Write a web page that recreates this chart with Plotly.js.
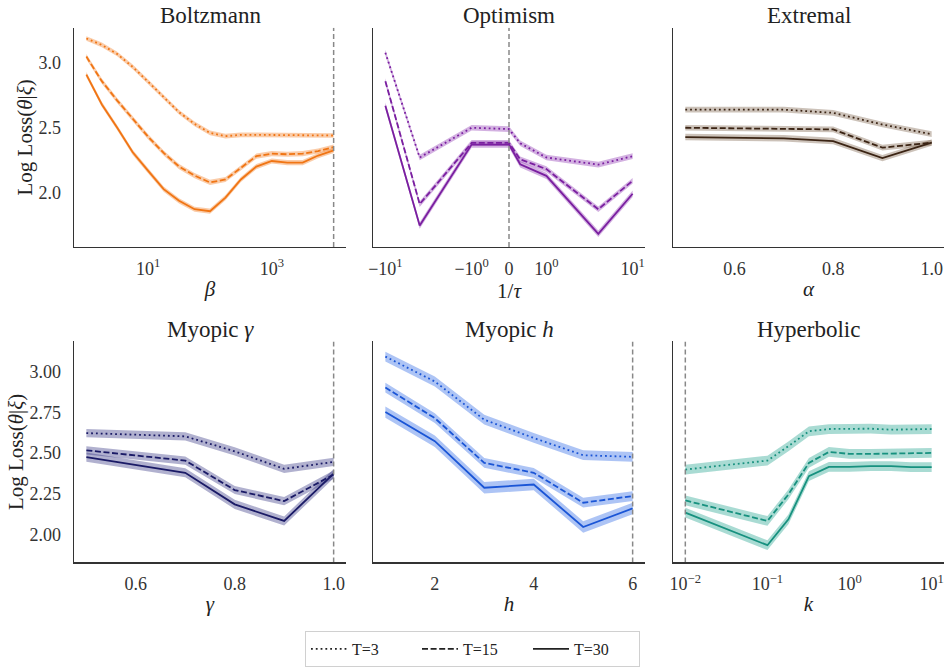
<!DOCTYPE html>
<html>
<head>
<meta charset="utf-8">
<script src="https://cdn.plot.ly/plotly-3.0.1.min.js"></script>
<style>html,body{margin:0;padding:0;background:#fff;}#chart{width:945px;height:667px;}</style>
</head>
<body>
<div id="chart"></div>
<script>
// ---------------- data ----------------
const seriesLabels = ['T=3', 'T=15', 'T=30'];

// Boltzmann (x: beta, log axis)
const boltzBeta = [1, 1.78, 3.16, 5.62, 10, 17.8, 31.6, 56.2, 100, 178, 316, 562, 1000, 1780, 3160, 5620, 10000];
const boltzT3  = [3.19, 3.14, 3.07, 2.97, 2.855, 2.74, 2.62, 2.53, 2.46, 2.435, 2.445, 2.445, 2.445, 2.445, 2.44, 2.44, 2.44];
const boltzT15 = [3.05, 2.86, 2.71, 2.57, 2.43, 2.305, 2.20, 2.13, 2.077, 2.10, 2.19, 2.28, 2.30, 2.295, 2.30, 2.32, 2.35];
const boltzT30 = [2.91, 2.68, 2.50, 2.31, 2.167, 2.025, 1.935, 1.87, 1.855, 1.96, 2.10, 2.20, 2.243, 2.23, 2.23, 2.285, 2.325];
const boltzErr = [0.018, 0.02, 0.02];
const boltzRef = 10000;

// Optimism (x: 1/tau, symlog axis)
const optTau = [-10, -4, -1, 0, 0.3, 1, 4, 10];
const optT3  = [3.08, 2.27, 2.50, 2.49, 2.38, 2.27, 2.215, 2.28];
const optT15 = [2.86, 1.91, 2.383, 2.383, 2.256, 2.18, 1.87, 2.09];
const optT30 = [2.67, 1.745, 2.37, 2.37, 2.218, 2.128, 1.68, 1.99];
const optErr = [0.022, 0.022, 0.025];
const optRef = 0;

// Extremal (x: alpha)
const extAlpha = [0.5, 0.6, 0.7, 0.8, 0.9, 1.0];
const extT3  = [2.64, 2.64, 2.64, 2.615, 2.525, 2.45];
const extT15 = [2.50, 2.495, 2.49, 2.487, 2.346, 2.385];
const extT30 = [2.428, 2.423, 2.418, 2.397, 2.265, 2.385];
const extErr = [0.022, 0.022, 0.025];

// Myopic gamma
const myGamma = [0.5, 0.6, 0.7, 0.8, 0.9, 1.0];
const myGT3  = [2.622, 2.612, 2.602, 2.51, 2.402, 2.445];
const myGT15 = [2.516, 2.485, 2.453, 2.272, 2.204, 2.367];
const myGT30 = [2.474, 2.426, 2.378, 2.184, 2.082, 2.373];
const myGErr = [0.025, 0.025, 0.028];
const myGRef = 1.0;

// Myopic h
const myH = [1, 2, 3, 4, 5, 6];
const myHT3  = [3.092, 2.939, 2.704, 2.592, 2.486, 2.476];
const myHT15 = [2.902, 2.714, 2.439, 2.378, 2.194, 2.235];
const myHT30 = [2.751, 2.572, 2.286, 2.306, 2.045, 2.159];
const myHErr = [0.03, 0.03, 0.035];
const myHRef = 6;

// Hyperbolic (x: k, log axis)
const hypK = [0.01, 0.1, 0.18, 0.32, 0.56, 1, 1.8, 3.2, 5.6, 10];
const hypT3  = [2.398, 2.453, 2.541, 2.633, 2.647, 2.647, 2.649, 2.643, 2.647, 2.647];
const hypT15 = [2.208, 2.082, 2.245, 2.439, 2.506, 2.494, 2.494, 2.496, 2.50, 2.50];
const hypT30 = [2.133, 1.933, 2.092, 2.357, 2.414, 2.414, 2.419, 2.419, 2.413, 2.413];
const hypErr = [0.03, 0.03, 0.03];
const hypRef = 0.01;

// ---------------- styles ----------------
const FONT = "'Liberation Serif', 'DejaVu Serif', serif";
const DASHES = ['1.8px,3px', '6px,2.6px', 'solid'];
const LW = 1.8;
const TOP_RANGE = [1.579, 3.272];
const BOT_RANGE = [1.827, 3.185];

// symlog-like transform for the optimism axis (linear within |v|<=1)
const LIN = 0.433;
function symlog(v) {
  const a = Math.abs(v);
  const t = a <= 1 ? a * LIN : LIN + Math.log10(a);
  return Math.sign(v) * t;
}

const panels = [
  {key: '', x: boltzBeta, ys: [boltzT3, boltzT15, boltzT30], err: boltzErr, color: [243,121,30], line: '#f07514', ref: boltzRef, yr: TOP_RANGE},
  {key: '2', x: optTau.map(symlog), ys: [optT3, optT15, optT30], err: optErr, color: [140,50,175], line: '#7a1fa0', ref: symlog(optRef), yr: TOP_RANGE},
  {key: '3', x: extAlpha, ys: [extT3, extT15, extT30], err: extErr, color: [120,95,70], line: '#3b2414', ref: null, yr: TOP_RANGE},
  {key: '4', x: myGamma, ys: [myGT3, myGT15, myGT30], err: myGErr, color: [50,50,130], line: '#1a1a66', ref: myGRef, yr: BOT_RANGE},
  {key: '5', x: myH, ys: [myHT3, myHT15, myHT30], err: myHErr, color: [40,100,230], line: '#1a55d6', ref: myHRef, yr: BOT_RANGE},
  {key: '6', x: hypK, ys: [hypT3, hypT15, hypT30], err: hypErr, color: [30,160,140], line: '#17917f', ref: hypRef, yr: BOT_RANGE}
];

const traces = [];
panels.forEach(p => {
  const xa = 'x' + p.key, ya = 'y' + p.key;
  const fill = `rgba(${p.color[0]},${p.color[1]},${p.color[2]},0.38)`;
  p.ys.forEach((ys, i) => {
    const e = p.err[i];
    traces.push({x: p.x, y: ys.map(v => v - e), xaxis: xa, yaxis: ya, mode: 'lines',
      line: {width: 0, color: 'rgba(0,0,0,0)'}, showlegend: false, hoverinfo: 'skip'});
    traces.push({x: p.x, y: ys.map(v => v + e), xaxis: xa, yaxis: ya, mode: 'lines', fill: 'tonexty',
      fillcolor: fill, line: {width: 0, color: 'rgba(0,0,0,0)'}, showlegend: false, hoverinfo: 'skip'});
  });
  p.ys.forEach((ys, i) => {
    traces.push({x: p.x, y: ys, xaxis: xa, yaxis: ya, mode: 'lines',
      line: {width: LW, color: p.line, dash: DASHES[i]}, showlegend: false, hoverinfo: 'skip'});
  });
  if (p.ref !== null) {
    traces.push({x: [p.ref, p.ref], y: p.yr, xaxis: xa, yaxis: ya, mode: 'lines',
      line: {width: 1.5, color: '#888', dash: '5px,3px'}, showlegend: false, hoverinfo: 'skip'});
  }
});

// legend entries
seriesLabels.forEach((lab, i) => {
  traces.push({x: [null], y: [null], xaxis: 'x', yaxis: 'y', mode: 'lines', name: lab,
    line: {width: LW, color: '#222', dash: DASHES[i]}, showlegend: true});
});

// ---------------- layout ----------------
const W = 945, H = 667;
const COLS = [[74, 346], [373, 645], [673, 944]];
const ROWS = [[28, 248], [343, 565]];
const xd = c => [COLS[c][0] / W, COLS[c][1] / W];
const yd = r => [1 - ROWS[r][1] / H, 1 - ROWS[r][0] / H];

const tickfont = {family: FONT, size: 18, color: '#333'};
const titlefont = {family: FONT, size: 21, color: '#222'};

function xaxis(c, r, yk, extra) {
  return Object.assign({
    domain: xd(c), anchor: 'y' + yk, showline: true, linecolor: '#333', linewidth: 1.3,
    showgrid: false, zeroline: false, ticks: '', tickfont: tickfont, ticklabelstandoff: 5,
    fixedrange: true
  }, extra);
}
function yaxis(c, r, xk, extra) {
  return Object.assign({
    domain: yd(r), anchor: 'x' + xk, showline: true, linecolor: '#333', linewidth: 1.3,
    showgrid: false, zeroline: false, ticks: '', tickfont: tickfont, ticklabelstandoff: 8,
    range: r === 0 ? TOP_RANGE : BOT_RANGE, fixedrange: true
  }, extra);
}

const ytitle = {text: 'Log Loss(<i>θ</i>|<i>ξ</i>)', font: titlefont, standoff: 0};

const layout = {
  width: W, height: H,
  margin: {l: 0, r: 0, t: 0, b: 0},
  paper_bgcolor: '#fff', plot_bgcolor: '#fff',
  font: {family: FONT, color: '#222'},
  xaxis: xaxis(0, 0, '', {type: 'log', range: [-0.2, 4.2], tickvals: [10, 1000],
    ticktext: ['10<sup>1</sup>', '10<sup>3</sup>'], title: {text: '<i>β</i>', font: titlefont, standoff: 3}}),
  xaxis2: xaxis(1, 0, '2', {range: [-1.1 * symlog(10), 1.1 * symlog(10)],
    tickvals: [-10, -1, 0, 1, 10].map(symlog),
    ticktext: ['−10<sup>1</sup>', '−10<sup>0</sup>', '0', '10<sup>0</sup>', '10<sup>1</sup>'],
    title: {text: '1/<i>τ</i>', font: titlefont, standoff: 3}}),
  xaxis3: xaxis(2, 0, '3', {range: [0.475, 1.025], tickvals: [0.6, 0.8, 1.0], tickformat: '.1f',
    title: {text: '<i>α</i>', font: titlefont, standoff: 3}}),
  xaxis4: xaxis(0, 1, '4', {range: [0.475, 1.025], tickvals: [0.6, 0.8, 1.0], tickformat: '.1f',
    title: {text: '<i>γ</i>', font: titlefont, standoff: 3}}),
  xaxis5: xaxis(1, 1, '5', {range: [0.75, 6.25], tickvals: [2, 4, 6],
    title: {text: '<i>h</i>', font: titlefont, standoff: 3}}),
  xaxis6: xaxis(2, 1, '6', {type: 'log', range: [-2.15, 1.15], tickvals: [0.01, 0.1, 1, 10],
    ticktext: ['10<sup>−2</sup>', '10<sup>−1</sup>', '10<sup>0</sup>', '10<sup>1</sup>'],
    title: {text: '<i>k</i>', font: titlefont, standoff: 3}}),
  yaxis: yaxis(0, 0, '', {tickvals: [2.0, 2.5, 3.0], tickformat: '.1f', title: ytitle}),
  yaxis2: yaxis(1, 0, '2', {showticklabels: false}),
  yaxis3: yaxis(2, 0, '3', {showticklabels: false}),
  yaxis4: yaxis(0, 1, '4', {tickvals: [2.0, 2.25, 2.5, 2.75, 3.0], tickformat: '.2f', title: ytitle}),
  yaxis5: yaxis(1, 1, '5', {showticklabels: false}),
  yaxis6: yaxis(2, 1, '6', {showticklabels: false}),
  showlegend: true,
  legend: {orientation: 'h', traceorder: 'normal', x: 305 / W, xanchor: 'left', y: 1 - 634 / H, yanchor: 'top',
    bgcolor: '#fff', bordercolor: '#d0d0d0', borderwidth: 1,
    font: {family: FONT, size: 16, color: '#222'},
    entrywidth: 60, entrywidthmode: 'pixels', itemwidth: 36},
  annotations: []
};

const titles = ['Boltzmann', 'Optimism', 'Extremal', 'Myopic <i>γ</i>', 'Myopic <i>h</i>', 'Hyperbolic'];
const titleCenters = [15.5, 330.5];
titles.forEach((t, i) => {
  const c = i % 3, r = Math.floor(i / 3);
  layout.annotations.push({
    text: t, xref: 'paper', yref: 'paper', showarrow: false,
    x: (COLS[c][0] + COLS[c][1]) / 2 / W, xanchor: 'center',
    y: 1 - titleCenters[r] / H, yanchor: 'middle',
    font: {family: FONT, size: 23, color: '#222'}
  });
});

Plotly.newPlot('chart', traces, layout, {displayModeBar: false, staticPlot: true});
</script>
</body>
</html>
